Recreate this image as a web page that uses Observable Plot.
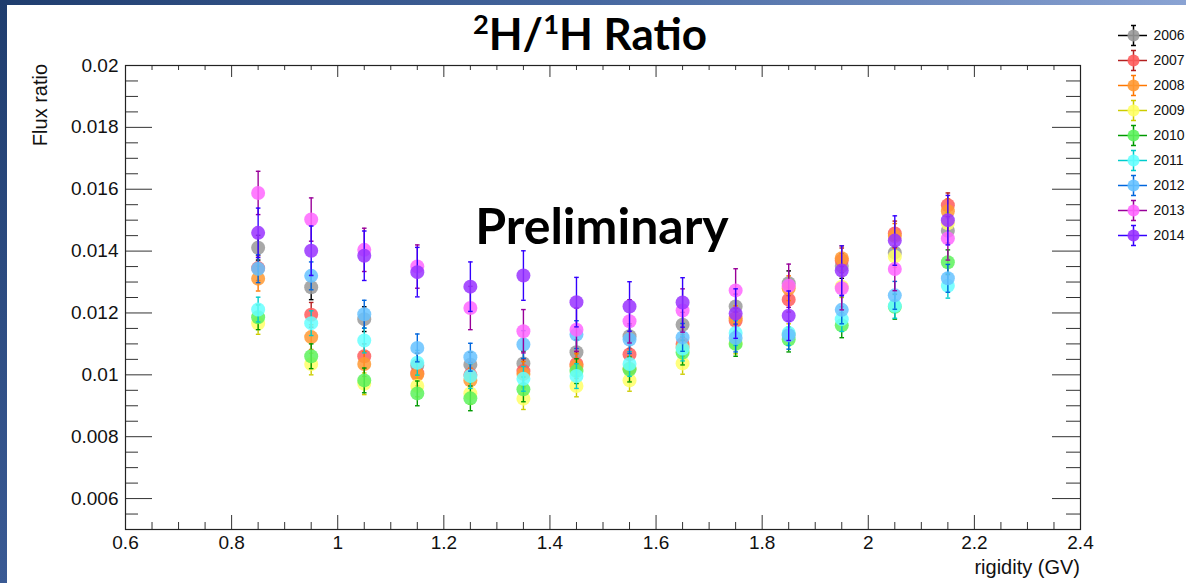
<!DOCTYPE html>
<html><head><meta charset="utf-8">
<script src="https://cdn.jsdelivr.net/npm/d3@7"></script>
<script src="https://cdn.jsdelivr.net/npm/@observablehq/plot@0.6"></script>
<style>
html,body{margin:0;padding:0;background:#fff;}
#wrap{position:relative;width:1186px;height:583px;overflow:hidden;background:#fff;font-family:"Liberation Sans",Arial,sans-serif;}
#topbar{position:absolute;left:0;top:0;width:1186px;height:5px;background:linear-gradient(90deg,#1f3d6e,#46679f 50%,#8aa3d3);z-index:3;}
#leftbar{position:absolute;left:0;top:0;width:7px;height:583px;background:linear-gradient(180deg,#1f3d6e,#3a5a94);z-index:3;}
#chart{position:absolute;left:0;top:0;}
#legend{position:absolute;left:1080px;top:0;}
#title{position:absolute;left:390px;width:400px;top:11px;text-align:center;font-family:Lato,"Open Sans",sans-serif;font-weight:700;font-size:44px;color:#000;line-height:1;}
#title sup{font-size:0.62em;vertical-align:0.6em;line-height:0;}
#prelim{position:absolute;left:402px;width:400px;top:200px;text-align:center;font-family:Lato,"Open Sans",sans-serif;font-weight:700;font-size:50px;color:#000;line-height:1;}
#ylab{position:absolute;left:40px;top:105px;transform:translate(-50%,-50%) rotate(-90deg);font-size:20px;color:#111;white-space:nowrap;}
#xlab{position:absolute;right:106px;top:556px;font-size:20px;color:#111;white-space:nowrap;}
</style>
</head><body>
<div id="wrap">
  <div id="chart"></div>
  <div id="legend"></div>
  <div id="title"><sup>2</sup>H/<sup>1</sup>H Ratio</div>
  <div id="prelim">Preliminary</div>
  <div id="ylab">Flux ratio</div>
  <div id="xlab">rigidity (GV)</div>
  <div id="topbar"></div>
  <div id="leftbar"></div>
</div>
<script>
// ---- data ----
const rigidity = [0.85, 0.95, 1.05, 1.15, 1.25, 1.35, 1.45, 1.55, 1.65, 1.75, 1.85, 1.95, 2.05, 2.15];
const years = ["2006", "2007", "2008", "2009", "2010", "2011", "2012", "2013", "2014"];
const r2006 = [0.01411, 0.01283, 0.01180, 0.01030, 0.01033, 0.01037, 0.01073, 0.01125, 0.01162, 0.01221, 0.01296, 0.01352, 0.01395, 0.01466];
const r2007 = [0.01345, 0.01194, 0.01060, 0.01005, 0.01000, 0.01012, 0.01035, 0.01066, 0.01100, 0.01175, 0.01243, 0.01370, 0.01457, 0.01548];
const r2008 = [0.01311, 0.01122, 0.01035, 0.01001, 0.00982, 0.01003, 0.01028, 0.01020, 0.01090, 0.01183, 0.01280, 0.01377, 0.01449, 0.01529];
const r2009 = [0.01166, 0.01035, 0.00971, 0.00964, 0.00940, 0.00923, 0.00964, 0.00982, 0.01037, 0.01103, 0.01130, 0.01285, 0.01382, 0.01490];
const r2010 = [0.01186, 0.01060, 0.00982, 0.00940, 0.00924, 0.00953, 0.01012, 0.01017, 0.01072, 0.01100, 0.01114, 0.01160, 0.01220, 0.01364];
const r2011 = [0.01211, 0.01167, 0.01111, 0.01039, 0.00996, 0.00987, 0.00996, 0.01035, 0.01085, 0.01135, 0.01135, 0.01180, 0.01223, 0.01288];
const r2012 = [0.01343, 0.01320, 0.01196, 0.01087, 0.01057, 0.01098, 0.01130, 0.01114, 0.01121, 0.01119, 0.01128, 0.01210, 0.01257, 0.01312];
const r2013 = [0.01588, 0.01502, 0.01404, 0.01350, 0.01216, 0.01141, 0.01146, 0.01173, 0.01208, 0.01273, 0.01288, 0.01280, 0.01342, 0.01441];
const r2014 = [0.01459, 0.01401, 0.01385, 0.01332, 0.01285, 0.01321, 0.01235, 0.01221, 0.01234, 0.01198, 0.01191, 0.01337, 0.01434, 0.01500];
const errors = [0.00040, 0.00040, 0.00040, 0.00035, 0.00040, 0.00040, 0.00045, 0.00070, 0.00080];
const markerColors = ["#999999", "#ff5c5c", "#ff9933", "#ffff66", "#5cf25c", "#66ffff", "#66c2ff", "#ff66ff", "#9933ff"];
const lineColors = ["#000000", "#b32020", "#ff7700", "#cccc00", "#009900", "#00cccc", "#0066dd", "#990099", "#3300ff"];
const yMajor = [0.006, 0.008, 0.010, 0.012, 0.014, 0.016, 0.018, 0.020];
const xMajor = [0.6, 0.8, 1.0, 1.2, 1.4, 1.6, 1.8, 2.0, 2.2, 2.4];

const ratios = [r2006, r2007, r2008, r2009, r2010, r2011, r2012, r2013, r2014];

// ---- build ----
const W = 1186, H = 583, mL = 125, mR = 106, mT = 65, mB = 54;
const pw = W - mL - mR, ph = H - mT - mB;
const near = (a, b) => Math.abs(a - b) < 1e-9;
const yMinor = d3.ticks(0.005, 0.02, 30).filter(v => !yMajor.some(m => near(m, v)));
const xMinor = d3.ticks(0.6, 2.4, 36).filter(v => !xMajor.some(m => near(m, v)));

const capSymbol = {draw(ctx, size) { const w = Math.sqrt(size) / 2; ctx.moveTo(-w, 0); ctx.lineTo(w, 0); }};

const marks = [];
years.forEach((yr, i) => {
  const d = rigidity.map((x, j) => ({year: yr, x, y: ratios[i][j], e: errors[i]}));
  marks.push(Plot.ruleX(d, {x: "x", y1: p => p.y - p.e, y2: p => p.y + p.e, stroke: lineColors[i], strokeWidth: 1.4}));
  marks.push(Plot.dot(d, {x: "x", y: p => p.y + p.e, symbol: capSymbol, r: 2.6, stroke: lineColors[i], strokeWidth: 1.4}));
  marks.push(Plot.dot(d, {x: "x", y: p => p.y - p.e, symbol: capSymbol, r: 2.6, stroke: lineColors[i], strokeWidth: 1.4}));
  marks.push(Plot.dot(d, {x: "x", y: "y", r: 7, fill: markerColors[i], fillOpacity: 0.85, stroke: "none"}));
});

const fmt = v => String(+v.toFixed(4));
const chart = Plot.plot({
  width: W, height: H,
  marginLeft: mL, marginRight: mR, marginTop: mT, marginBottom: mB,
  x: {domain: [0.6, 2.4]},
  y: {domain: [0.005, 0.02]},
  style: {fontFamily: "'Liberation Sans', Arial, sans-serif", fontSize: "19px", color: "#111", background: "transparent"},
  marks: [
    ...marks,
    Plot.tickY(yMajor, {y: d => d, insetRight: pw - 27, stroke: "#333"}),
    Plot.tickY(yMinor, {y: d => d, insetRight: pw - 13, stroke: "#333"}),
    Plot.tickY(yMajor, {y: d => d, insetLeft: pw - 28, stroke: "#333"}),
    Plot.tickY(yMinor, {y: d => d, insetLeft: pw - 14, stroke: "#333"}),
    Plot.tickX(xMajor, {x: d => d, insetTop: ph - 14, stroke: "#333"}),
    Plot.tickX(xMinor, {x: d => d, insetTop: ph - 7, stroke: "#333"}),
    Plot.tickX(xMajor, {x: d => d, insetBottom: ph - 12, stroke: "#333"}),
    Plot.tickX(xMinor, {x: d => d, insetBottom: ph - 5, stroke: "#333"}),
    Plot.axisY(yMajor, {anchor: "left", tickSize: 0, tickPadding: 7, tickFormat: fmt, label: null}),
    Plot.axisX(xMajor, {anchor: "bottom", tickSize: 0, tickPadding: 6, tickFormat: fmt, label: null}),
    Plot.frame({stroke: "#222", strokeWidth: 1.2})
  ]
});
document.getElementById("chart").appendChild(chart);

// ---- legend ----
const errSymbol = {draw(ctx, size) {
  const h = Math.sqrt(size); const w = h / 4;
  ctx.moveTo(0, -h); ctx.lineTo(0, h);
  ctx.moveTo(-w, -h); ctx.lineTo(w, -h);
  ctx.moveTo(-w, h); ctx.lineTo(w, h);
}};
const lineOf = Object.fromEntries(years.map((y, i) => [y, lineColors[i]]));
const fillOf = Object.fromEntries(years.map((y, i) => [y, markerColors[i]]));
const legend = Plot.plot({
  width: 106, height: 270, margin: 0,
  y: {type: "point", domain: years, range: [21.5, 248], axis: null},
  color: {type: "identity"},
  style: {fontFamily: "'Liberation Sans', Arial, sans-serif", background: "transparent"},
  marks: [
    Plot.ruleY(years, {y: d => d, stroke: d => lineOf[d], strokeWidth: 1.5, insetLeft: 38, insetRight: 39}),
    Plot.dot(years, {y: d => d, frameAnchor: "left", dx: 53, symbol: errSymbol, r: 5.6, stroke: d => lineOf[d], strokeWidth: 1.5}),
    Plot.dot(years, {y: d => d, frameAnchor: "left", dx: 53, r: 6, fill: d => fillOf[d], fillOpacity: 0.9}),
    Plot.text(years, {y: d => d, text: d => d, frameAnchor: "left", dx: 73, textAnchor: "start", fontSize: 14, fill: "#111"})
  ]
});
document.getElementById("legend").appendChild(legend);
</script>
</body></html>
